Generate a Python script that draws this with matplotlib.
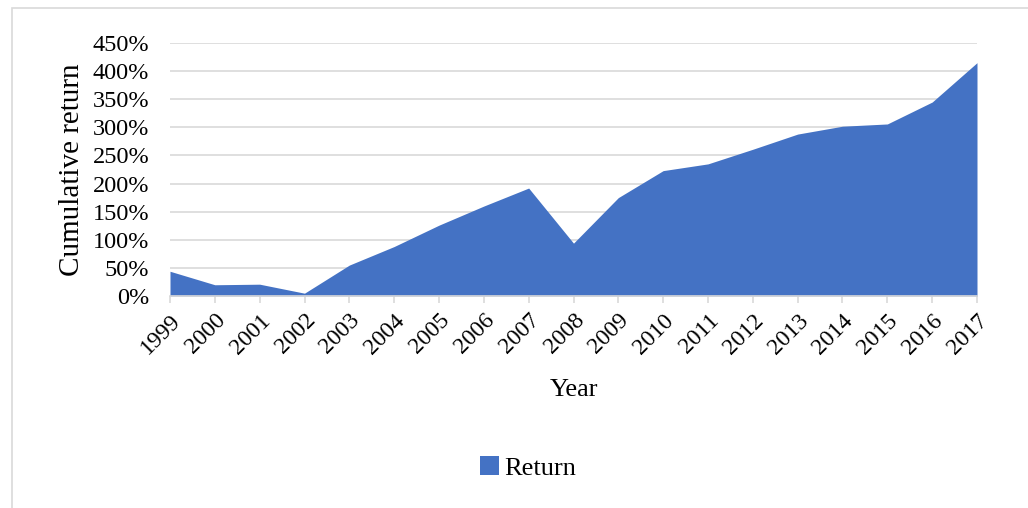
import matplotlib
matplotlib.use("Agg")
import matplotlib.pyplot as plt
from matplotlib.patches import Rectangle, Patch
from matplotlib.ticker import FuncFormatter

years = ["1999", "2000", "2001", "2002", "2003", "2004", "2005", "2006", "2007", "2008",
         "2009", "2010", "2011", "2012", "2013", "2014", "2015", "2016", "2017"]
cum_return = [44, 20, 21, 5, 55, 88, 126, 160, 192, 94,
              175, 223, 235, 261, 288, 302, 306, 345, 415]  # percent
y_ticks = [0, 50, 100, 150, 200, 250, 300, 350, 400, 450]

plt.rcParams['font.family'] = ['Liberation Serif', 'DejaVu Serif']

W, H = 1028, 508
fig = plt.figure(figsize=(W / 100, H / 100), dpi=100)

# outer chart border
fig.patches.append(Rectangle((11.5 / W, -0.1), 1.2, 1 - 8.3 / H + 0.1,
                             transform=fig.transFigure, fill=False,
                             edgecolor='#d9d9d9', linewidth=1.2))

ax = fig.add_axes([170 / W, 1 - 296 / H, (977 - 170) / W, (296 - 43) / H])
x = list(range(len(years)))
ax.fill_between(x, 0, cum_return, color='#4472C4', linewidth=0, zorder=2)

ax.set_xlim(0, len(years) - 1)
ax.set_ylim(0, 450)
ax.set_yticks(y_ticks)
ax.yaxis.set_major_formatter(FuncFormatter(lambda v, p: f"{int(v)}%"))
ax.grid(axis='y', color='#d9d9d9', linewidth=1.2, zorder=0)
ax.set_axisbelow(True)

for s in ['top', 'right', 'left']:
    ax.spines[s].set_visible(False)
ax.spines['bottom'].set_color('#d9d9d9')
ax.spines['bottom'].set_linewidth(1.2)
ax.spines['bottom'].set_zorder(3)

ax.set_xticks(x)
ax.set_xticklabels(years, rotation=45, ha='right', va='top', rotation_mode='anchor',
                   fontsize=17)
ax.tick_params(axis='x', length=5, color='#d9d9d9', width=1.2, pad=5)
ax.tick_params(axis='y', length=0, labelsize=17.5, pad=15)

ax.set_ylabel('Cumulative return', fontsize=21, labelpad=5)
fig.text(574 / W, 1 - 390 / H, 'Year', ha='center', va='center', fontsize=19)

handle = Patch(facecolor='#4472C4', edgecolor='none')
fig.legend([handle], ['Return'], loc='center', bbox_to_anchor=(528 / W, 1 - 468 / H),
           frameon=False, fontsize=19, handlelength=0.7, handleheight=0.7,
           handletextpad=0.2)

fig.savefig('out.png', dpi=100)
